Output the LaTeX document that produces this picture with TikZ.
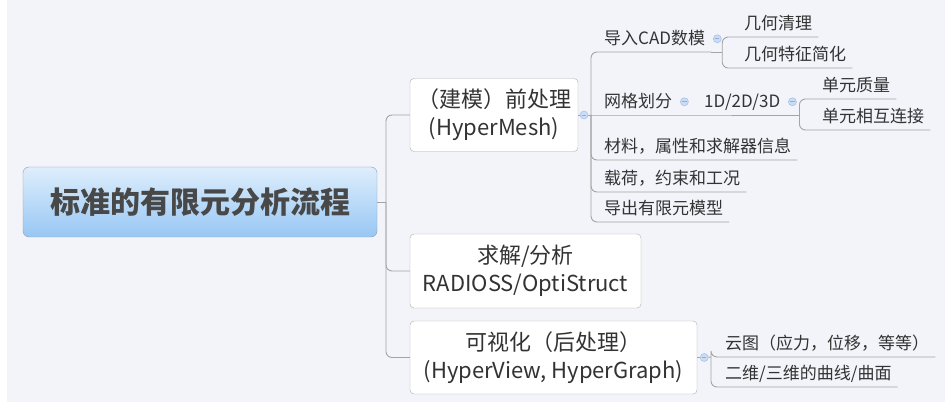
\documentclass[tikz,border=0pt]{standalone}
\usepackage{fontspec}
\setmainfont{Noto Sans CJK SC}
\usepackage{xcolor}
\usepackage{tikz}
\usetikzlibrary{positioning,calc}

\definecolor{bgpaper}{HTML}{F2F4F9}
\definecolor{linegray}{HTML}{A4A4A4}
\definecolor{boxline}{HTML}{ADADAD}
\definecolor{rootTop}{HTML}{DEEEFC}
\definecolor{rootBot}{HTML}{98C7F4}
\definecolor{rootLine}{HTML}{8C9CB0}
\definecolor{textgray}{HTML}{333333}
\definecolor{rootText}{HTML}{484848}
\definecolor{foldFill}{HTML}{CADDF5}
\definecolor{foldLine}{HTML}{A8C2E6}
\definecolor{foldMark}{HTML}{8FAEDC}

\begin{document}
\begin{tikzpicture}[
    x=1pt, y=-1pt,
    conn/.style={draw=linegray, line width=0.9pt},
    fork/.style={conn, rounded corners=6pt},
    root/.style={
        draw=rootLine,
        rounded corners=6pt,
        top color=rootTop,
        bottom color=rootBot,
        minimum width=354pt,
        minimum height=70pt,
        text=rootText,
        font=\fontsize{30}{36}\selectfont\bfseries
    },
    topic/.style={
        draw=boxline,
        fill=white,
        rounded corners=4pt,
        align=center,
        inner sep=0pt,
        text=textgray,
        font=\fontsize{22}{28}\selectfont
    },
    item/.style={
        anchor=south west,
        inner xsep=6pt,
        inner ysep=4.5pt,
        text height=14pt,
        text depth=3pt,
        text=textgray,
        font=\fontsize{17}{20}\selectfont
    },
    knob/.style={
        circle,
        draw=foldLine,
        fill=foldFill,
        line width=0.6pt,
        minimum size=8pt,
        inner sep=0pt,
        path picture={\draw[foldMark, line width=0.8pt]
            ([xshift=-2.2pt]path picture bounding box.center) --
            ([xshift=2.2pt]path picture bounding box.center);}
    }
]

\useasboundingbox (0,0) rectangle (945,406);
\fill[white] (0,0) rectangle (945,406);
\fill[bgpaper] (7,0) rectangle (945,402);

\node[root] (flow) at (200,202) {标准的有限元分析流程};
\node[topic, minimum width=168pt, minimum height=73pt] (pre) at (494,115) {（建模）前处理\\(HyperMesh)};
\node[topic, minimum width=231pt, minimum height=74pt] (solve) at (525.5,271) {求解/分析\\RADIOSS/OptiStruct};
\node[topic, minimum width=287pt, minimum height=73pt] (post) at (553.5,357.5) {可视化（后处理）\\(HyperView, HyperGraph)};

\coordinate (trunk) at (386,202);
\draw[conn] (flow.east) -- (trunk);
\draw[fork] (trunk) |- (pre.west);
\draw[fork] (trunk) |- (solve.west);
\draw[fork] (trunk) |- (post.west);

\node[knob] (preknob) at (584,115) {};
\coordinate (prefork) at (591,115);
\draw[conn] (pre.east) -- (preknob);
\draw[conn] (preknob) -- (prefork);

\node[item] (cad) at (598,52) {导入CAD数模};
\node[item] (mesh) at (598,115) {网格划分};
\node[item] (grid) at (698,115) {1D/2D/3D};
\node[item] (mat) at (598,160) {材料，属性和求解器信息};
\node[item] (load) at (598,192) {载荷，约束和工况};
\node[item] (export) at (598,222) {导出有限元模型};

\draw[fork] (prefork) |- (cad.south east);
\draw[conn] (prefork) -- (mesh.south east) -- (grid.south east);
\draw[fork] (prefork) |- (mat.south east);
\draw[fork] (prefork) |- (load.south east);
\draw[fork] (prefork) |- (export.south east);

\node[knob] (cadknob) at ([xshift=6pt]cad.east) {};
\coordinate (cadfork) at ([xshift=11pt]cad.south east);
\node[item] (clean) at (738,37) {几何清理};
\node[item] (simplify) at (738,68) {几何特征简化};
\draw[conn] (cad.south east) -- (cadfork);
\draw[fork] (cadfork) |- (clean.south east);
\draw[fork] (cadfork) |- (simplify.south east);

\node[knob] (meshknob) at ([xshift=6pt]mesh.east) {};
\node[knob] (gridknob) at ([xshift=6pt]grid.east) {};
\coordinate (gridfork) at ([xshift=13pt]grid.south east);
\node[item] (quality) at (816,99) {单元质量};
\node[item] (link) at (816,130) {单元相互连接};
\draw[conn] (grid.south east) -- (gridfork);
\draw[fork] (gridfork) |- (quality.south east);
\draw[fork] (gridfork) |- (link.south east);

\node[knob] (postknob) at ([xshift=7pt]post.east) {};
\coordinate (postfork) at (711,357);
\node[item] (contour) at (719,357) {云图（应力，位移，等等）};
\node[item] (curve) at (719,387) {二维/三维的曲线/曲面};
\draw[conn] (post.east) -- (postknob);
\draw[conn] (postknob) -- (postfork);
\draw[fork] (postfork) |- (contour.south east);
\draw[fork] (postfork) |- (curve.south east);

\end{tikzpicture}
\end{document}
